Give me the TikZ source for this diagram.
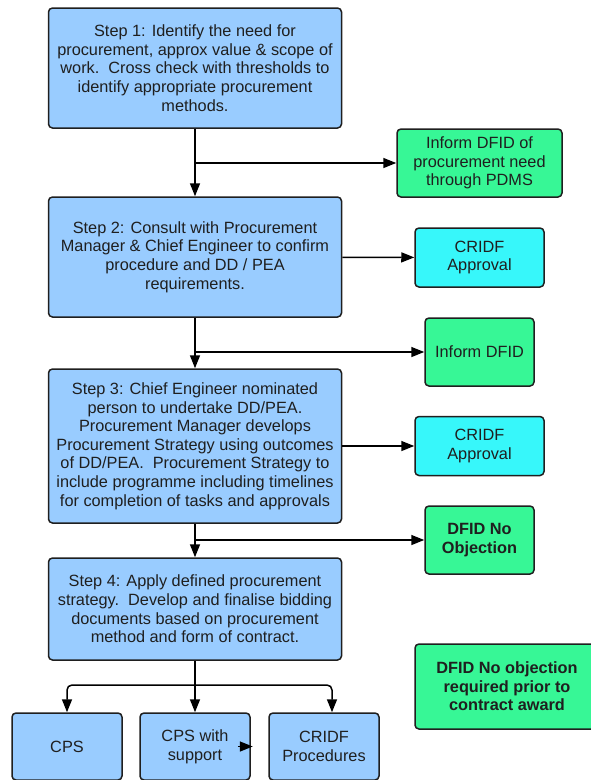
\documentclass[tikz,border=0pt]{standalone}
\usepackage{fontspec}
\setmainfont{Liberation Sans}
\usetikzlibrary{arrows.meta}

\definecolor{stepblue}{RGB}{153,204,255}
\definecolor{dfidgreen}{RGB}{55,247,150}
\definecolor{cridfcyan}{RGB}{55,247,250}

\begin{document}
\begin{tikzpicture}[x=1pt,y=-1pt,
    box/.style={draw=black!88, line width=1.5pt, rounded corners=4pt, align=center, inner sep=0pt, text=black!88, font=\fontsize{16.3}{18.6}\selectfont},
    stepbox/.style={box, fill=stepblue, minimum width=293pt},
    greenbox/.style={box, fill=dfidgreen},
    cyanbox/.style={box, fill=cridfcyan, minimum width=129pt, minimum height=59pt},
    bottombox/.style={box, fill=stepblue, minimum width=110pt, minimum height=67pt},
    arr/.style={-{Triangle[length=13pt,width=10pt]}, line width=1.5pt}]
    \def\cx{195};
    \def\rx{479.5};
    \useasboundingbox (0,0) rectangle (590,780);

    \node[stepbox, minimum height=120pt] at (\cx,68) (step1) {Step 1: Identify the need for\\procurement, approx value \& scope of\\work.\ \ Cross check with thresholds to\\identify appropriate procurement\\methods.};
    \node[stepbox, minimum height=120pt] at (\cx,257) (step2) {Step 2: Consult with Procurement\\Manager \& Chief Engineer to confirm\\procedure and DD / PEA\\requirements.};
    \node[stepbox, minimum height=154pt] at (\cx,446) (step3) {Step 3: Chief Engineer nominated\\person to undertake DD/PEA.\\Procurement Manager develops\\Procurement Strategy using outcomes\\of DD/PEA.\ \ Procurement Strategy to\\include programme including timelines\\for completion of tasks and approvals};
    \node[stepbox, minimum height=102pt] at (\cx,609) (step4) {Step 4: Apply defined procurement\\strategy.\ \ Develop and finalise bidding\\documents based on procurement\\method and form of contract.};

    \node[greenbox, minimum width=165pt, minimum height=68pt] at (\rx,163) (pdms) {Inform DFID of\\procurement need\\through PDMS};
    \node[cyanbox] at (\rx,257.5) (approval1) {CRIDF\\Approval};
    \node[greenbox, minimum width=109pt, minimum height=68pt] at (\rx,352) (inform) {Inform DFID};
    \node[cyanbox] at (\rx,446) (approval2) {CRIDF\\Approval};
    \node[greenbox, minimum width=109pt, minimum height=68pt, font=\fontsize{16.3}{18.6}\selectfont\bfseries] at (\rx,540) (noobj) {DFID No\\Objection};
    \node[greenbox, minimum width=184pt, minimum height=85pt, font=\fontsize{16.3}{18.6}\selectfont\bfseries] at (507,686.5) (award) {DFID No objection\\required prior to\\contract award};

    \node[bottombox] at (67,746.5) (cps) {CPS};
    \node[bottombox] at (\cx,746.5) (cpssup) {CPS with\\support};
    \node[bottombox] at (324,746.5) (cridfproc) {CRIDF\\Procedures};

    \coordinate (b1) at (\cx,163);
    \coordinate (b2) at (\cx,352);
    \coordinate (b3) at (\cx,540);
    \coordinate (fork) at (\cx,685);

    \draw[arr] (step1) -- (step2);
    \draw[arr] (step2) -- (step3);
    \draw[arr] (step3) -- (step4);
    \draw[arr] (b1) -- (pdms);
    \draw[arr] (step2) -- (approval1);
    \draw[arr] (b2) -- (inform);
    \draw[arr] (step3) -- (approval2);
    \draw[arr] (b3) -- (noobj);
    \draw[arr] (step4) -- (cpssup);
    \draw[arr, rounded corners=5pt] (fork) -| (cps);
    \draw[arr, rounded corners=5pt] (fork) -| ([xshift=8pt]cridfproc.north);
    \draw[arr] ([xshift=-13pt]cpssup.east) -- ([xshift=2pt]cpssup.east);
\end{tikzpicture}
\end{document}
